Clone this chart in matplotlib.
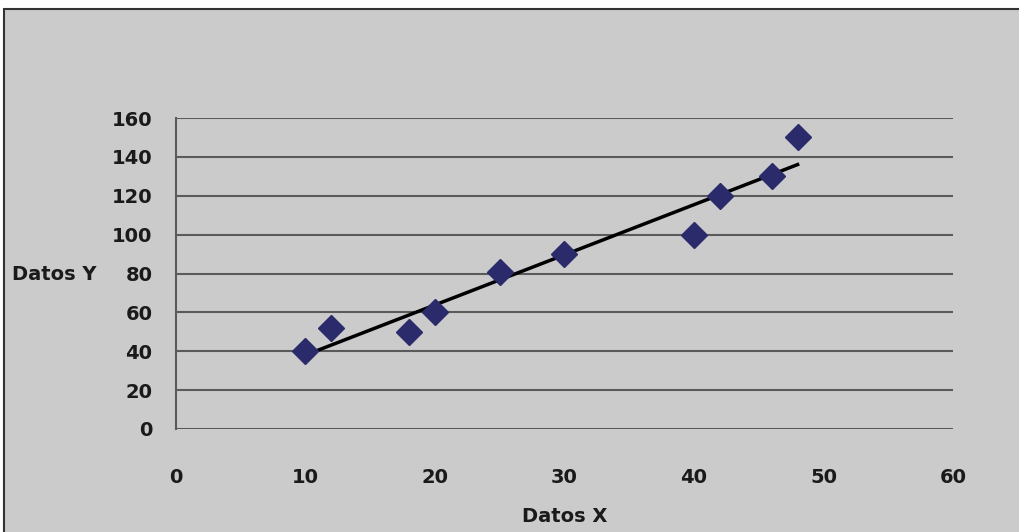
import matplotlib
matplotlib.use('Agg')
import matplotlib.pyplot as plt
import matplotlib.patches as mpatches
import numpy as np

# values
datos_x = [10, 12, 18, 20, 25, 30, 40, 42, 46, 48]
datos_y = [40, 52, 50, 60, 81, 90, 100, 120, 130, 150]
x_ticks = [0, 10, 20, 30, 40, 50, 60]
y_ticks = [0, 20, 40, 60, 80, 100, 120, 140, 160]

bg = '#cbcbcb'
marker_color = '#2b2b6b'
grid_color = '#5a5a5a'

fig = plt.figure(figsize=(10.2, 5.32), dpi=100)
fig.patch.set_facecolor('white')

# grey chart frame, white strip above it
frame = mpatches.Rectangle((4 / 1020, -0.05), 1.1, 1.05 - 9 / 532, transform=fig.transFigure,
                           facecolor=bg, edgecolor='#333333', linewidth=1.5, zorder=-5)
fig.patches.append(frame)

ax = fig.add_axes([176 / 1020, 1 - 429 / 532, (953 - 176) / 1020, (429 - 118) / 532])
ax.set_facecolor(bg)

ax.set_xlim(0, 60)
ax.set_ylim(0, 160)
ax.set_xticks(x_ticks)
ax.set_yticks(y_ticks)

for y in y_ticks:
    ax.axhline(y, color=grid_color, linewidth=1.5, zorder=1)

for s in ['top', 'right', 'bottom']:
    ax.spines[s].set_visible(False)
ax.spines['left'].set_color(grid_color)
ax.spines['left'].set_linewidth(1.5)

ax.tick_params(length=0, labelsize=14, colors='#1a1a1a')
ax.tick_params(axis='y', pad=17)
ax.tick_params(axis='x', pad=28)
for lbl in ax.get_xticklabels() + ax.get_yticklabels():
    lbl.set_fontweight('bold')

# linear trend line
slope, intercept = np.polyfit(datos_x, datos_y, 1)
xs = np.array([min(datos_x), max(datos_x)])
ax.plot(xs, slope * xs + intercept, color='black', linewidth=2.5, zorder=3)

ax.plot(datos_x, datos_y, linestyle='none', marker='D', markersize=13,
        color=marker_color, zorder=4, clip_on=False)

fig.text(12 / 1020, 1 - 275 / 532, 'Datos Y', fontsize=14, fontweight='bold',
         va='center', ha='left', color='#1a1a1a')
fig.text(565 / 1020, 1 - 517 / 532, 'Datos X', fontsize=14, fontweight='bold',
         va='center', ha='center', color='#1a1a1a')

fig.savefig('out.png', dpi=100, facecolor=fig.get_facecolor())
